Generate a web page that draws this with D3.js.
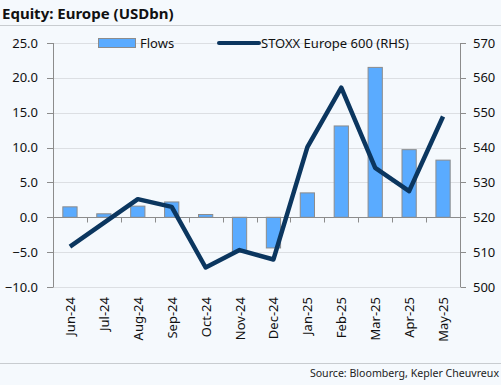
<!DOCTYPE html>
<html>
<head>
<meta charset="utf-8">
<script src="https://cdn.jsdelivr.net/npm/d3@7"></script>
<style>
  html, body { margin: 0; padding: 0; background: #f5f9fd; }
  svg { display: block; font-family: "Noto Sans", sans-serif; }
</style>
</head>
<body>
<div id="chart"></div>
<script>
// Equity: Europe — monthly flows (bars, LHS) vs STOXX Europe 600 (line, RHS)
const months = ['Jun-24', 'Jul-24', 'Aug-24', 'Sep-24', 'Oct-24', 'Nov-24',
  'Dec-24', 'Jan-25', 'Feb-25', 'Mar-25', 'Apr-25', 'May-25'];
const flows = [1.5, 0.5, 1.6, 2.2, 0.4, -5.0, -4.4, 3.5, 13.1, 21.5, 9.7, 8.2];
const stoxx = [511.6, 518.4, 525.2, 523.0, 505.6, 510.6, 507.9, 540.1, 557.2, 534.2, 527.5, 548.9];
const leftTicks = [-10, -5, 0, 5, 10, 15, 20, 25];
const rightTicks = [500, 510, 520, 530, 540, 550, 560, 570];

(function () {
  const W = 501, H = 385;
  const margin = { top: 43, right: 41, bottom: 98, left: 53 };
  const width = W - margin.left - margin.right;
  const height = H - margin.top - margin.bottom;

  const svg = d3.select('#chart').append('svg')
    .attr('width', W).attr('height', H);

  svg.append('rect').attr('width', W).attr('height', H).attr('fill', '#f5f9fd');

  svg.append('text')
    .attr('x', 2).attr('y', 19)
    .style('font-size', '15px').style('font-weight', 'bold').style('fill', '#111')
    .text('Equity: Europe (USDbn)');

  svg.append('line').attr('x1', 0).attr('x2', W).attr('y1', 25.5).attr('y2', 25.5)
    .attr('stroke', '#c8ccd0').attr('stroke-width', 1);
  svg.append('line').attr('x1', 0).attr('x2', W).attr('y1', 363.5).attr('y2', 363.5)
    .attr('stroke', '#c8ccd0').attr('stroke-width', 1);

  svg.append('text')
    .attr('x', 499).attr('y', 377).attr('text-anchor', 'end')
    .style('font-size', '10.6px').style('fill', '#222')
    .text('Source: Bloomberg, Kepler Cheuvreux');

  const g = svg.append('g').attr('transform', `translate(${margin.left},${margin.top})`);

  const x = d3.scaleBand().domain(months).range([0, width]).paddingInner(0.58).paddingOuter(0.29);
  const xPoint = d => x(d) + x.bandwidth() / 2;
  const yL = d3.scaleLinear().domain([-10, 25]).range([height, 0]);
  const yR = d3.scaleLinear().domain([500, 570]).range([height, 0]);

  // gridlines
  g.append('g').selectAll('line').data(leftTicks).enter().append('line')
    .attr('x1', 0).attr('x2', width)
    .attr('y1', d => Math.round(yL(d)) + 0.5).attr('y2', d => Math.round(yL(d)) + 0.5)
    .attr('stroke', '#dcdfe3').attr('stroke-width', 1);

  // bars
  g.append('g').selectAll('rect').data(flows).enter().append('rect')
    .attr('x', (d, i) => x(months[i]))
    .attr('width', x.bandwidth())
    .attr('y', d => yL(Math.max(0, d)))
    .attr('height', d => Math.abs(yL(d) - yL(0)))
    .attr('fill', '#5aabff')
    .attr('stroke', '#8c8c8c').attr('stroke-width', 1);

  // zero axis with category-boundary ticks
  const axisColor = '#8c8c8c';
  const xAxis = g.append('g').attr('transform', `translate(0,${Math.round(yL(0)) + 0.5})`);
  xAxis.append('line').attr('x1', 0).attr('x2', width).attr('stroke', axisColor);
  const step = width / months.length;
  xAxis.selectAll('.tk').data(d3.range(1, months.length)).enter().append('line')
    .attr('x1', d => Math.round(d * step) + 0.5).attr('x2', d => Math.round(d * step) + 0.5)
    .attr('y1', 0).attr('y2', 5).attr('stroke', axisColor);

  // month labels (rotated)
  g.append('g').selectAll('text').data(months).enter().append('text')
    .attr('transform', d => `translate(${xPoint(d) + 5},${height + 10}) rotate(-90)`)
    .attr('text-anchor', 'end')
    .style('font-size', '13px').style('fill', '#111')
    .text(d => d);

  // left axis
  const left = g.append('g');
  left.append('line').attr('x1', 0.5).attr('x2', 0.5).attr('y1', 0).attr('y2', height).attr('stroke', axisColor);
  left.selectAll('.tk').data(leftTicks).enter().append('line')
    .attr('x1', -6).attr('x2', 0.5)
    .attr('y1', d => Math.round(yL(d)) + 0.5).attr('y2', d => Math.round(yL(d)) + 0.5)
    .attr('stroke', axisColor);
  left.selectAll('text').data(leftTicks).enter().append('text')
    .attr('x', -15).attr('y', d => yL(d)).attr('dy', '0.35em')
    .attr('text-anchor', 'end')
    .style('font-size', '13px').style('fill', '#111')
    .text(d => d3.format('.1f')(d));

  // right axis
  const right = g.append('g').attr('transform', `translate(${width},0)`);
  right.append('line').attr('x1', 0.5).attr('x2', 0.5).attr('y1', 0).attr('y2', height).attr('stroke', axisColor);
  right.selectAll('.tk').data(rightTicks).enter().append('line')
    .attr('x1', 0.5).attr('x2', 6)
    .attr('y1', d => Math.round(yR(d)) + 0.5).attr('y2', d => Math.round(yR(d)) + 0.5)
    .attr('stroke', axisColor);
  right.selectAll('text').data(rightTicks).enter().append('text')
    .attr('x', 13).attr('y', d => yR(d)).attr('dy', '0.35em')
    .attr('text-anchor', 'start')
    .style('font-size', '13px').style('fill', '#111')
    .text(d => d);

  // STOXX line
  const line = d3.line()
    .x((d, i) => xPoint(months[i]))
    .y(d => yR(d));
  g.append('path').datum(stoxx)
    .attr('d', line)
    .attr('fill', 'none')
    .attr('stroke', '#0b365f')
    .attr('stroke-width', 4.5)
    .attr('stroke-linejoin', 'round');

  // legend
  const lg = svg.append('g');
  lg.append('rect').attr('x', 98.5).attr('y', 38.5).attr('width', 37).attr('height', 9)
    .attr('fill', '#5aabff').attr('stroke', '#8c8c8c');
  lg.append('text').attr('x', 140).attr('y', 43).attr('dy', '0.35em')
    .style('font-size', '13px').style('fill', '#111').text('Flows');
  lg.append('line').attr('x1', 219).attr('x2', 259).attr('y1', 43).attr('y2', 43)
    .attr('stroke', '#0b365f').attr('stroke-width', 4).attr('stroke-linecap', 'round');
  lg.append('text').attr('x', 261).attr('y', 43).attr('dy', '0.35em')
    .style('font-size', '13px').style('fill', '#111').text('STOXX Europe 600 (RHS)');
})();
</script>
</body>
</html>
